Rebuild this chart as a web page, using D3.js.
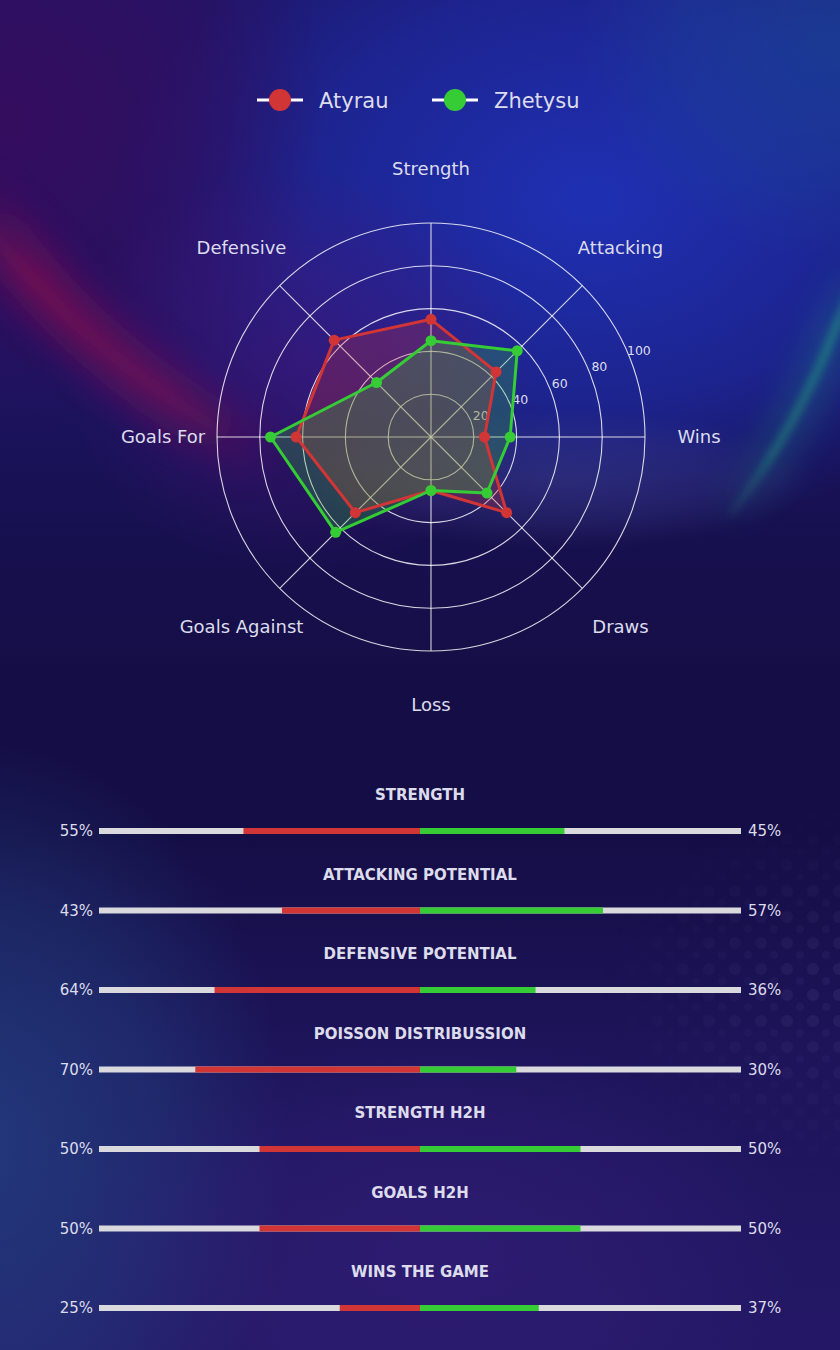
<!DOCTYPE html>
<html>
<head>
<meta charset="utf-8">
<script src="https://cdn.jsdelivr.net/npm/d3@7"></script>
<style>
html,body{margin:0;padding:0;background:#16104a;}
svg{display:block;}
svg text{font-family:"DejaVu Sans","DejaVu Sans Book",sans-serif;}
</style>
</head>
<body>
<svg id="chart" width="840" height="1350"></svg>
<script>
// ---------- data ----------
const teams = ["Atyrau", "Zhetysu"];
const teamColors = ["#d23535", "#35cc35"];
const radarCategories = ["Strength", "Attacking", "Wins", "Draws", "Loss", "Goals Against", "Goals For", "Defensive"];
const atyrauValues = [55, 43, 25, 50, 25, 50, 63, 64];
const zhetysuValues = [45, 57, 37, 37, 25, 63, 75, 36];
const radialTicks = [20, 40, 60, 80, 100];

const barTitles = ["STRENGTH", "ATTACKING POTENTIAL", "DEFENSIVE POTENTIAL", "POISSON DISTRIBUSSION", "STRENGTH H2H", "GOALS H2H", "WINS THE GAME"];
const atyrauPct = [55, 43, 64, 70, 50, 50, 25];
const zhetysuPct = [45, 57, 36, 30, 50, 50, 37];

// ---------- setup ----------
const W = 840, H = 1350;
const FONT = "DejaVu Sans";
const svg = d3.select("#chart");
const defs = svg.append("defs");

const lg = defs.append("linearGradient").attr("id", "bgBase").attr("x1", 0).attr("y1", 0).attr("x2", 0).attr("y2", 1);
[["0%", "#1c1668"], ["28%", "#1a1460"], ["40%", "#17104f"], ["50%", "#150e46"], ["62%", "#150e46"], ["78%", "#1d145a"], ["100%", "#241866"]]
  .forEach(s => lg.append("stop").attr("offset", s[0]).attr("stop-color", s[1]));

function radial(id, color, op) {
  const g = defs.append("radialGradient").attr("id", id);
  g.append("stop").attr("offset", "0%").attr("stop-color", color).attr("stop-opacity", op);
  g.append("stop").attr("offset", "60%").attr("stop-color", color).attr("stop-opacity", op * 0.55);
  g.append("stop").attr("offset", "100%").attr("stop-color", color).attr("stop-opacity", 0);
}
radial("gBlue", "#1f33bc", 0.9);
radial("gTopRight", "#1a4a9a", 0.6);
radial("gPurple", "#380c5e", 0.9);
radial("gLeftBlue", "#24508e", 0.6);
radial("gBotPurple", "#36207e", 0.55);
radial("gRadarPurple", "#4a1478", 0.5);
radial("gArcLight", "#6a6aa8", 0.22);

function streakGrad(id, x1, y1, x2, y2, color) {
  const g = defs.append("linearGradient").attr("id", id).attr("gradientUnits", "userSpaceOnUse")
    .attr("x1", x1).attr("y1", y1).attr("x2", x2).attr("y2", y2);
  [["0%", 0], ["25%", 1], ["70%", 0.8], ["100%", 0]]
    .forEach(s => g.append("stop").attr("offset", s[0]).attr("stop-color", color).attr("stop-opacity", s[1]));
}
streakGrad("redStreak", -20, 170, 280, 470, "#8c1050");
streakGrad("greenStreak", 860, 250, 720, 530, "#1fa680");

function blur(id, sd) {
  defs.append("filter").attr("id", id).attr("filterUnits", "userSpaceOnUse")
    .attr("x", -200).attr("y", -200).attr("width", 1240).attr("height", 1750)
    .append("feGaussianBlur").attr("stdDeviation", sd);
}
blur("blur18", 18); blur("blur8", 8); blur("blur4", 4);

// dot pattern
const pat = defs.append("pattern").attr("id", "dots").attr("patternUnits", "userSpaceOnUse").attr("width", 26).attr("height", 26);
pat.append("circle").attr("cx", 7).attr("cy", 7).attr("r", 6).attr("fill", "#7a6ab0").attr("opacity", 0.3);
pat.append("circle").attr("cx", 20).attr("cy", 19).attr("r", 4).attr("fill", "#7a6ab0").attr("opacity", 0.22);
const mg = defs.append("radialGradient").attr("id", "dotMaskGrad");
mg.append("stop").attr("offset", "0%").attr("stop-color", "#fff").attr("stop-opacity", 0.45);
mg.append("stop").attr("offset", "100%").attr("stop-color", "#fff").attr("stop-opacity", 0);
defs.append("mask").attr("id", "dotMask").append("ellipse")
  .attr("cx", 840).attr("cy", 990).attr("rx", 240).attr("ry", 190).attr("fill", "url(#dotMaskGrad)");

const bg = svg.append("g");
bg.append("rect").attr("width", W).attr("height", H).attr("fill", "url(#bgBase)");
bg.append("ellipse").attr("cx", 590).attr("cy", 200).attr("rx", 480).attr("ry", 340).attr("fill", "url(#gBlue)");
bg.append("ellipse").attr("cx", 840).attr("cy", 40).attr("rx", 260).attr("ry", 220).attr("fill", "url(#gTopRight)");
bg.append("ellipse").attr("cx", 10).attr("cy", 120).attr("rx", 320).attr("ry", 320).attr("fill", "url(#gPurple)");
bg.append("ellipse").attr("cx", 300).attr("cy", 370).attr("rx", 240).attr("ry", 200).attr("fill", "url(#gRadarPurple)");
bg.append("ellipse").attr("cx", 560).attr("cy", 480).attr("rx", 260).attr("ry", 70).attr("fill", "url(#gArcLight)");
bg.append("ellipse").attr("cx", -30).attr("cy", 1140).attr("rx", 320).attr("ry", 400).attr("fill", "url(#gLeftBlue)");
bg.append("ellipse").attr("cx", 440).attr("cy", 1250).attr("rx", 360).attr("ry", 220).attr("fill", "url(#gBotPurple)");
// red diffuse streak on the left
bg.append("path").attr("d", "M-30,195 C40,295 120,380 270,460")
  .attr("fill", "none").attr("stroke", "url(#redStreak)").attr("stroke-width", 55).attr("opacity", 0.6).attr("filter", "url(#blur18)");
bg.append("path").attr("d", "M-20,220 C50,305 120,370 220,430")
  .attr("fill", "none").attr("stroke", "url(#redStreak)").attr("stroke-width", 12).attr("opacity", 0.35).attr("filter", "url(#blur8)");
// green streak on the right
bg.append("path").attr("d", "M860,260 C830,360 790,440 725,520")
  .attr("fill", "none").attr("stroke", "url(#greenStreak)").attr("stroke-width", 28).attr("opacity", 0.35).attr("filter", "url(#blur18)");
bg.append("path").attr("d", "M858,265 C828,360 788,440 730,515")
  .attr("fill", "none").attr("stroke", "url(#greenStreak)").attr("stroke-width", 7).attr("opacity", 0.65).attr("filter", "url(#blur4)");
bg.append("rect").attr("x", 560).attr("y", 780).attr("width", 280).attr("height", 420).attr("fill", "url(#dots)").attr("mask", "url(#dotMask)");

// ---------- legend ----------
const textColor = "#dcdcec";
const legendX = [280, 455];
const legend = svg.append("g");
teams.forEach((t, i) => {
  const g = legend.append("g").attr("transform", `translate(${legendX[i]},100)`);
  g.append("line").attr("x1", -23).attr("x2", 23).attr("stroke", "#ffffff").attr("stroke-width", 3);
  g.append("circle").attr("r", 11).attr("fill", teamColors[i]);
  g.append("text").attr("x", 39).attr("y", 8).attr("fill", textColor).attr("font-family", FONT).attr("font-size", 21).text(t);
});

// ---------- radar ----------
const cx = 431, cy = 437, R = 214;
const r = d3.scaleLinear().domain([0, 100]).range([0, R]);
const angle = d3.scalePoint().domain(radarCategories).range([0, 2 * Math.PI * (radarCategories.length - 1) / radarCategories.length]);
const radar = svg.append("g").attr("transform", `translate(${cx},${cy})`);
const gridColor = "rgba(255,255,255,0.82)";

radar.selectAll("circle.ring").data(radialTicks).join("circle").attr("class", "ring")
  .attr("r", d => r(d)).attr("fill", "none").attr("stroke", gridColor).attr("stroke-width", 1.1);
radar.selectAll("line.spoke").data(radarCategories).join("line").attr("class", "spoke")
  .attr("x1", 0).attr("y1", 0)
  .attr("x2", d => r(100) * Math.sin(angle(d)))
  .attr("y2", d => -r(100) * Math.cos(angle(d)))
  .attr("stroke", gridColor).attr("stroke-width", 1.1);

const labelR = 268;
radar.selectAll("text.cat").data(radarCategories).join("text").attr("class", "cat")
  .attr("x", d => labelR * Math.sin(angle(d)))
  .attr("y", d => -labelR * Math.cos(angle(d)) + 6)
  .attr("text-anchor", "middle").attr("fill", textColor).attr("font-family", FONT).attr("font-size", 18).text(d => d);

const tickAng = 67.5 * Math.PI / 180;
radar.selectAll("text.tick").data(radialTicks).join("text").attr("class", "tick")
  .attr("x", d => (r(d) + 11) * Math.sin(tickAng))
  .attr("y", d => -(r(d) + 11) * Math.cos(tickAng) + 4)
  .attr("text-anchor", "middle").attr("fill", textColor).attr("font-family", FONT).attr("font-size", 12.5).text(d => d);

const line = d3.lineRadial().angle((d, i) => angle(radarCategories[i])).radius(d => r(d)).curve(d3.curveLinearClosed);
const seriesList = [atyrauValues, zhetysuValues];
seriesList.forEach((vals, i) => {
  radar.append("path").attr("d", line(vals)).attr("fill", teamColors[i]).attr("fill-opacity", 0.25).attr("stroke", "none");
});
seriesList.forEach((vals, i) => {
  radar.append("path").attr("d", line(vals)).attr("fill", "none").attr("stroke", teamColors[i]).attr("stroke-width", 3).attr("stroke-linejoin", "round");
  radar.selectAll(null).data(vals).join("circle")
    .attr("cx", (d, j) => r(d) * Math.sin(angle(radarCategories[j])))
    .attr("cy", (d, j) => -r(d) * Math.cos(angle(radarCategories[j])))
    .attr("r", 5.5).attr("fill", teamColors[i]);
});

// ---------- comparison bars ----------
const barCenter = 420, half = 321, barH = 6;
const bx = d3.scaleLinear().domain([0, 100]).range([0, half]);
const rowY = d3.scalePoint().domain(barTitles).range([831, 1308]);
const bars = svg.append("g");
barTitles.forEach((t, i) => {
  const y = rowY(t);
  const g = bars.append("g");
  g.append("text").attr("x", barCenter).attr("y", y - 31).attr("text-anchor", "middle")
    .attr("fill", textColor).attr("font-family", FONT).attr("font-size", 15).attr("font-weight", "bold").text(t);
  g.append("rect").attr("x", barCenter - bx(100)).attr("y", y - barH / 2).attr("width", bx(100) * 2).attr("height", barH).attr("fill", "#d9d9de");
  g.append("rect").attr("x", barCenter - bx(atyrauPct[i])).attr("y", y - barH / 2).attr("width", bx(atyrauPct[i])).attr("height", barH).attr("fill", teamColors[0]);
  g.append("rect").attr("x", barCenter).attr("y", y - barH / 2).attr("width", bx(zhetysuPct[i])).attr("height", barH).attr("fill", teamColors[1]);
  g.append("text").attr("x", barCenter - bx(100) - 6).attr("y", y + 5).attr("text-anchor", "end")
    .attr("fill", textColor).attr("font-family", FONT).attr("font-size", 15).text(atyrauPct[i] + "%");
  g.append("text").attr("x", barCenter + bx(100) + 7).attr("y", y + 5).attr("text-anchor", "start")
    .attr("fill", textColor).attr("font-family", FONT).attr("font-size", 15).text(zhetysuPct[i] + "%");
});
</script>
</body>
</html>
